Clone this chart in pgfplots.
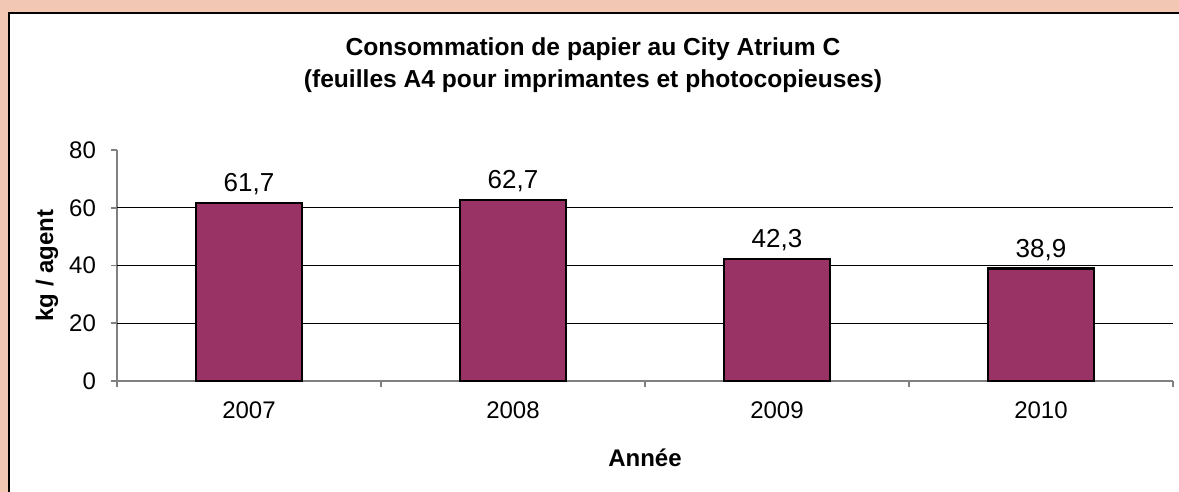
\documentclass[border=0pt]{standalone}
\usepackage{pgfplots}
\pgfplotsset{compat=1.18}
\usepackage{fontspec}
\setmainfont{Liberation Sans}
\definecolor{peach}{RGB}{242,199,180}
\definecolor{barfill}{RGB}{153,51,102}
\definecolor{axgray}{RGB}{128,128,128}

\begin{document}
\begin{tikzpicture}[x=1pt,y=1pt]
% frame: 1 px = 0.5pt of the 1179x492 reference
\path[use as bounding box] (0,0) rectangle (589.5,246);
\fill[peach] (0,0) rectangle (589.5,246);
\fill[white] (4.5,0) rectangle (589.5,239.5);
\draw[black, line width=1pt] (4.5,0) -- (4.5,239.5) -- (589.5,239.5);

\begin{axis}[
  at={(58.5pt,55.5pt)}, anchor=south west,
  scale only axis,
  width=528pt, height=115.5pt,
  ybar, bar width=53pt,
  xmin=0.5, xmax=4.5,
  ymin=0, ymax=80,
  xtick={1,2,3,4},
  xticklabels={2007,2008,2009,2010},
  major x tick style={draw=none},
  minor xtick={0.5,1.5,2.5,3.5,4.5},
  minor x tick style={axgray, line width=0.8pt},
  minor tick length=3pt,
  ytick={0,20,40,60,80},
  extra y ticks={20,40,60},
  extra y tick labels={},
  extra y tick style={grid=major, major tick length=0pt},
  major grid style={black, line width=0.6pt},
  major tick length=3pt,
  tick style={axgray, line width=0.8pt},
  tick align=outside,
  axis x line*=bottom, axis y line*=left,
  axis line style={axgray, line width=0.8pt, -},
  tick label style={font=\fontsize{12}{14}\selectfont},
  xticklabel style={yshift=-4pt},
  yticklabel style={xshift=-4pt},
  /pgf/number format/assume math mode=true,
  /pgf/number format/use comma,
  xlabel={\textbf{Année}},
  xlabel style={at={(axis description cs:0.5,-0.333)}, anchor=center, font=\fontsize{12}{14}\selectfont},
  ylabel={\textbf{kg / agent}},
  ylabel style={at={(axis description cs:-0.0663,0.5)}, anchor=center, font=\fontsize{12}{14}\selectfont},
  nodes near coords,
  nodes near coords style={font=\fontsize{13}{15}\selectfont, /pgf/number format/fixed, /pgf/number format/precision=1, /pgf/number format/fixed zerofill, /pgf/number format/use comma, /pgf/number format/assume math mode=true},
  clip=false,
]
\addplot[fill=barfill, draw=black, line width=1.2pt]
  coordinates {(1,61.7) (2,62.7) (3,42.3) (4,38.9)};
\end{axis}

\node[align=center, font=\fontsize{12.3}{16}\selectfont\bfseries] at (296.5,213.5)
  {Consommation de papier au City Atrium C\\(feuilles A4 pour imprimantes et photocopieuses)};
\end{tikzpicture}
\end{document}
